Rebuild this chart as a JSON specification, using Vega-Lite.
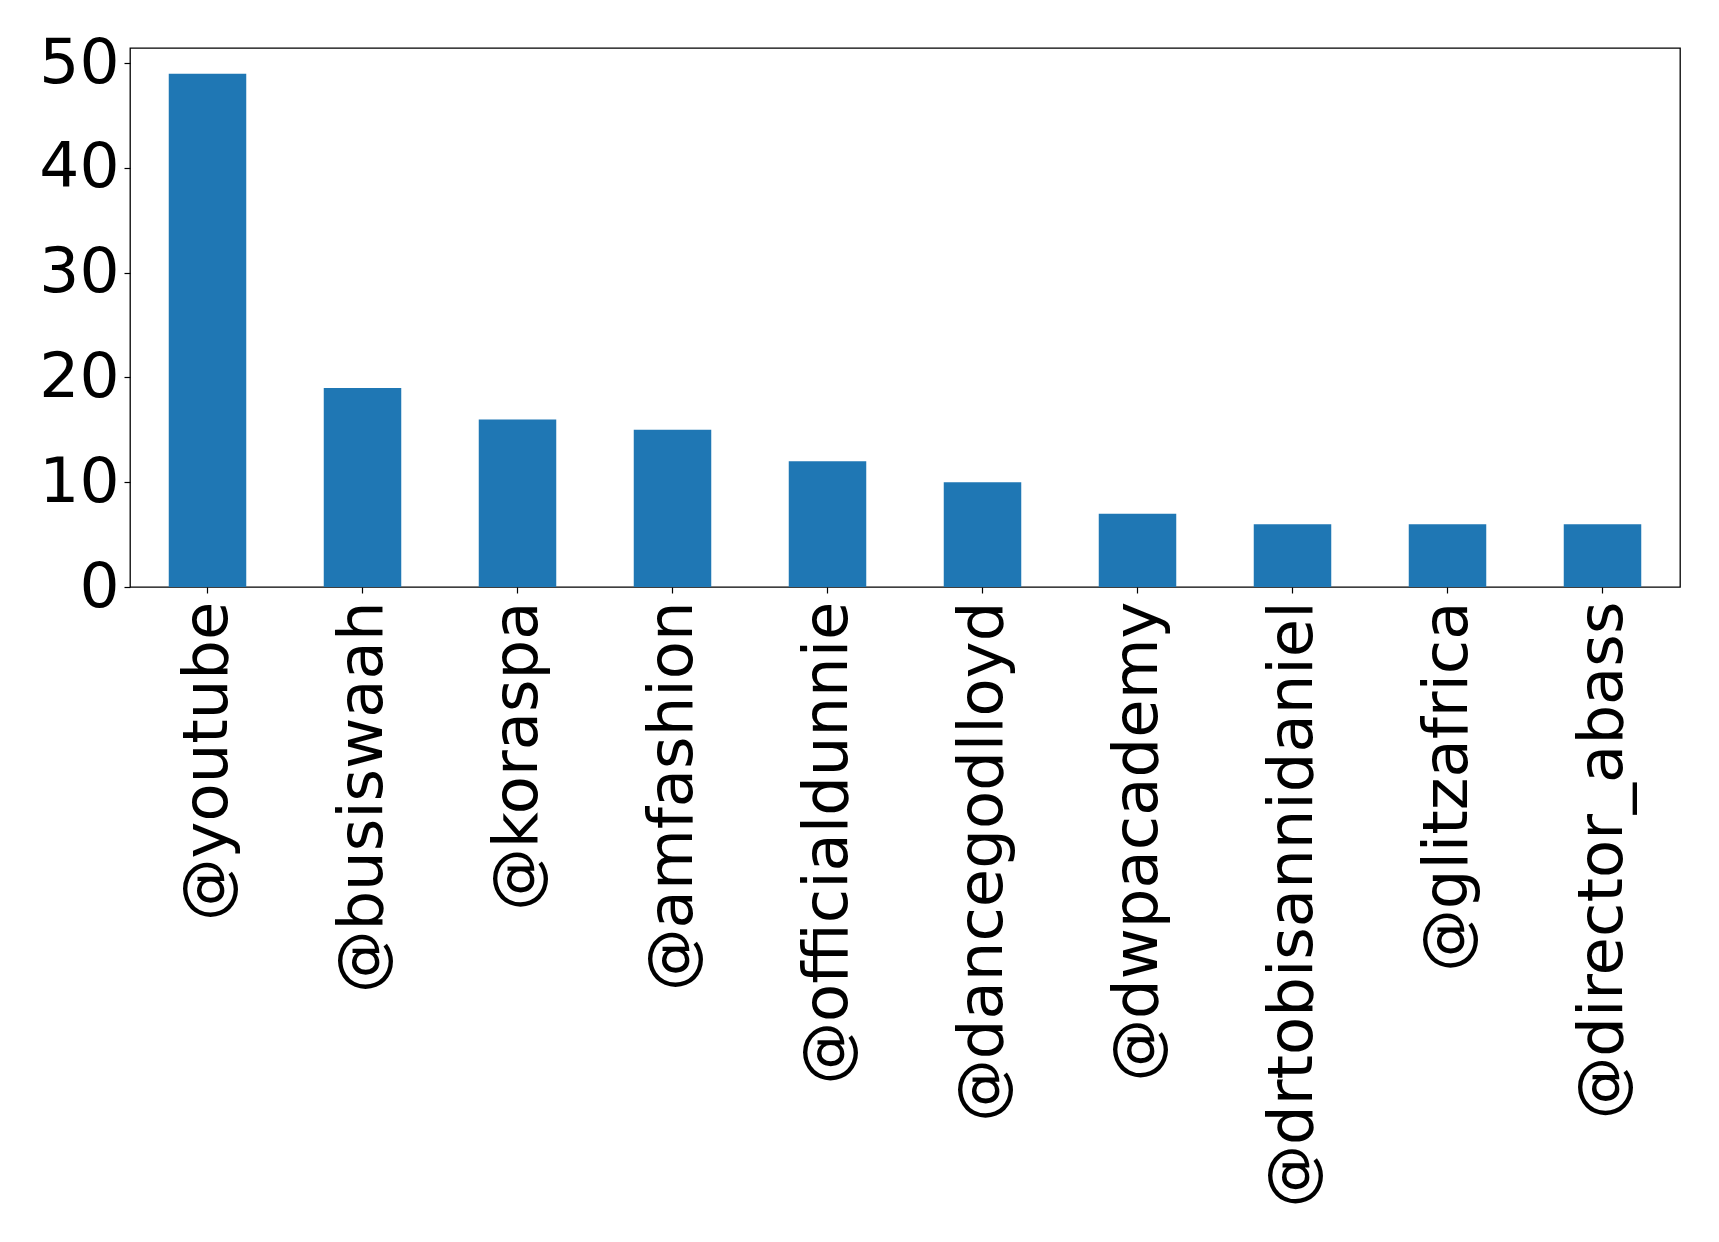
{
  "$schema": "https://vega.github.io/schema/vega-lite/v6.json",
  "width": 1550,
  "height": 539,
  "autosize": {"type": "none"},
  "padding": {"left": 130, "top": 48, "right": 39, "bottom": 655},
  "background": "white",
  "config": {
    "view": {"stroke": "black", "strokeWidth": 1.3},
    "font": "DejaVu Sans"
  },
  "data": {
    "values": [
      {"user": "@youtube", "count": 49},
      {"user": "@busiswaah", "count": 19},
      {"user": "@koraspa", "count": 16},
      {"user": "@amfashion", "count": 15},
      {"user": "@officialdunnie", "count": 12},
      {"user": "@dancegodlloyd", "count": 10},
      {"user": "@dwpacademy", "count": 7},
      {"user": "@drtobisannidaniel", "count": 6},
      {"user": "@glitzafrica", "count": 6},
      {"user": "@director_abass", "count": 6}
    ]
  },
  "mark": {"type": "bar", "color": "#1f77b4"},
  "encoding": {
    "x": {
      "field": "user",
      "type": "nominal",
      "sort": null,
      "scale": {"paddingInner": 0.5, "paddingOuter": 0.25},
      "axis": {
        "title": null,
        "domain": false,
        "grid": false,
        "labelAngle": -90,
        "labelFont": "DejaVu Sans",
        "labelFontSize": 62.5,
        "labelColor": "black",
        "labelPadding": 8,
        "labelLimit": 0,
        "tickColor": "black",
        "tickSize": 6,
        "tickWidth": 1.2
      }
    },
    "y": {
      "field": "count",
      "type": "quantitative",
      "scale": {"domain": [0, 51.45], "nice": false, "zero": true},
      "axis": {
        "title": null,
        "domain": false,
        "grid": false,
        "values": [0, 10, 20, 30, 40, 50],
        "labelFont": "DejaVu Sans",
        "labelFontSize": 63,
        "labelColor": "black",
        "labelPadding": 5,
        "tickColor": "black",
        "tickSize": 6,
        "tickWidth": 1.2
      }
    }
  }
}
